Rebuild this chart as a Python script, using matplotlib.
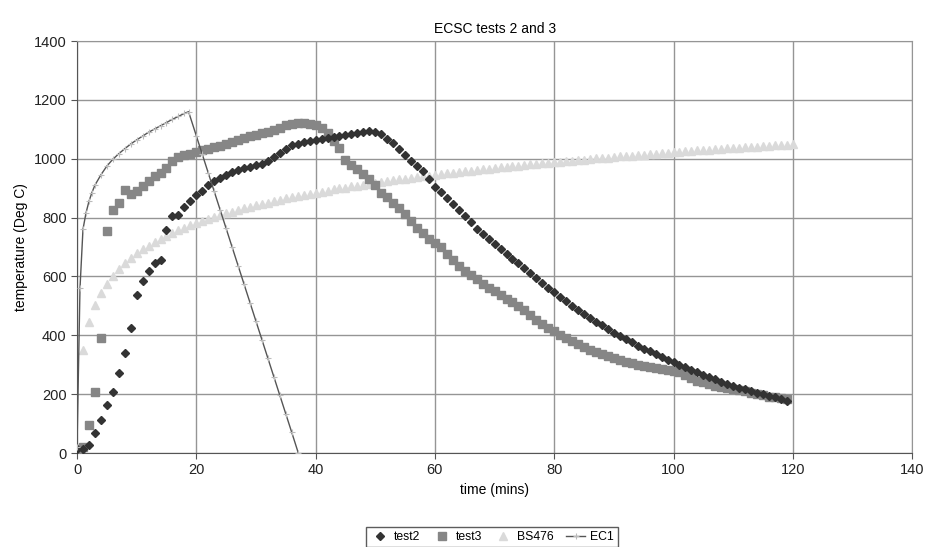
import matplotlib
matplotlib.use('Agg')
import matplotlib.pyplot as plt
import numpy as np

plt.rcParams['font.family'] = ['Liberation Sans', 'DejaVu Sans']

# minutes 0..119 for the two tests, 0..120 for BS476
test_t = list(range(0, 120))
bs_t = list(range(0, 121))

test2 = [15, 15, 27, 69, 112, 163, 209, 271, 341, 424,
         537, 583, 619, 647, 656, 758, 804, 810, 835, 855,
         877, 892, 910, 925, 934, 945, 955, 963, 968, 973,
         978, 982, 992, 1005, 1019, 1033, 1045, 1051, 1056, 1059,
         1064, 1068, 1072, 1075, 1078, 1081, 1084, 1088, 1091, 1093,
         1092, 1084, 1068, 1053, 1032, 1013, 993, 975, 958, 932,
         905, 886, 866, 846, 826, 806, 784, 762, 743, 726,
         709, 692, 675, 658, 645, 628, 611, 594, 578, 562,
         546, 530, 515, 500, 486, 472, 459, 446, 434, 421,
         408, 396, 386, 376, 365, 355, 345, 335, 326, 317,
         308, 300, 291, 283, 275, 266, 258, 250, 243, 236,
         229, 222, 216, 210, 204, 199, 194, 189, 184, 178]

test3 = [15, 20, 95, 206, 390, 753, 826, 849, 894, 880,
         889, 906, 923, 940, 951, 968, 991, 1006, 1014, 1017,
         1022, 1028, 1034, 1039, 1044, 1049, 1057, 1063, 1069, 1076,
         1081, 1086, 1091, 1097, 1104, 1113, 1119, 1121, 1121, 1118,
         1113, 1105, 1089, 1059, 1038, 997, 979, 965, 947, 931,
         910, 884, 871, 851, 831, 811, 788, 765, 747, 728,
         712, 700, 675, 655, 636, 620, 605, 590, 576, 562,
         549, 536, 524, 512, 498, 485, 470, 452, 437, 425,
         413, 401, 390, 379, 369, 360, 351, 343, 336, 329,
         323, 316, 311, 305, 300, 296, 292, 288, 284, 281,
         278, 276, 266, 255, 246, 240, 234, 228, 224, 220,
         217, 214, 210, 205, 199, 196, 192, 189, 186, 182]

bs476 = [20, 349, 445, 502, 544, 576, 603, 626, 645, 663,
         678, 693, 705, 717, 728, 739, 748, 757, 766, 774,
         781, 789, 796, 802, 809, 815, 820, 826, 832, 837,
         842, 847, 851, 856, 860, 865, 869, 873, 877, 881,
         885, 888, 892, 896, 899, 902, 906, 909, 912, 915,
         918, 921, 924, 927, 930, 932, 935, 938, 940, 943,
         945, 948, 950, 953, 955, 957, 960, 962, 964, 966,
         968, 971, 973, 975, 977, 979, 981, 983, 985, 986,
         988, 990, 992, 994, 996, 997, 999, 1001, 1003, 1004,
         1006, 1008, 1009, 1011, 1012, 1014, 1016, 1017, 1019, 1020,
         1022, 1023, 1025, 1026, 1028, 1029, 1030, 1032, 1033, 1035,
         1036, 1037, 1039, 1040, 1041, 1043, 1044, 1045, 1047, 1048,
         1049]

ec1_t = [0, 0.5, 1, 1.5, 2, 2.5, 3, 4, 5, 6, 7, 8, 9, 10, 11, 12, 13, 14,
         15, 16, 17, 18, 18.7, 20, 21, 22, 23, 24, 25, 26, 27, 28, 29, 30,
         31, 32, 33, 34, 35, 36, 37.1]
ec1 = [20, 560, 760, 815, 855, 885, 910, 945, 975, 998, 1017, 1034, 1050,
       1064, 1077, 1090, 1101, 1112, 1123, 1134, 1144, 1154, 1160, 1078,
       1015, 952, 889, 826, 763, 700, 637, 574, 511, 448, 385, 322, 259,
       196, 133, 70, 0]

fig = plt.figure(figsize=(9.3, 5.47), dpi=100)
ax = fig.add_axes([0.0828, 0.1718, 0.898, 0.7532])

ax.plot(bs_t, bs476, linestyle='none', marker='^', markersize=5.5,
        color='#dadada', label='BS476', zorder=2)
ax.plot(test_t, test3, linestyle='none', marker='s', markersize=6,
        color='#868686', label='test3', zorder=3)
ax.plot(test_t, test2, linestyle='none', marker='D', markersize=4.3,
        color='#333333', label='test2', zorder=4)
ax.plot(ec1_t, ec1, color='#555555', linewidth=1.0, marker='+',
        markersize=4, markeredgecolor='#bbbbbb', markeredgewidth=0.8,
        label='EC1', zorder=5)

ax.set_xlim(0, 140)
ax.set_ylim(0, 1400)
ax.set_xticks(np.arange(0, 141, 20))
ax.set_yticks(np.arange(0, 1401, 200))
ax.grid(True, color='#959595', linewidth=1)
ax.set_axisbelow(True)
for s in ax.spines.values():
    s.set_color('#959595')
ax.spines['left'].set_color('#555555')
ax.spines['bottom'].set_color('#555555')
ax.tick_params(labelsize=10.5, colors='#222222', length=4, color='#555555')

ax.set_title('ECSC tests 2 and 3', fontsize=10, pad=6)
ax.set_xlabel('time (mins)', fontsize=10)
ax.set_ylabel('temperature (Deg C)', fontsize=10)

h, l = ax.get_legend_handles_labels()
order = [2, 1, 0, 3]
leg = fig.legend([h[i] for i in order], [l[i] for i in order],
                 loc='lower center', bbox_to_anchor=(0.529, -0.012), ncol=4,
                 fontsize=8.8, frameon=True, fancybox=False,
                 edgecolor='#333333', handlelength=1.5, columnspacing=1.0,
                 handletextpad=0.4, borderpad=0.35)

fig.savefig('out.png', dpi=100)
